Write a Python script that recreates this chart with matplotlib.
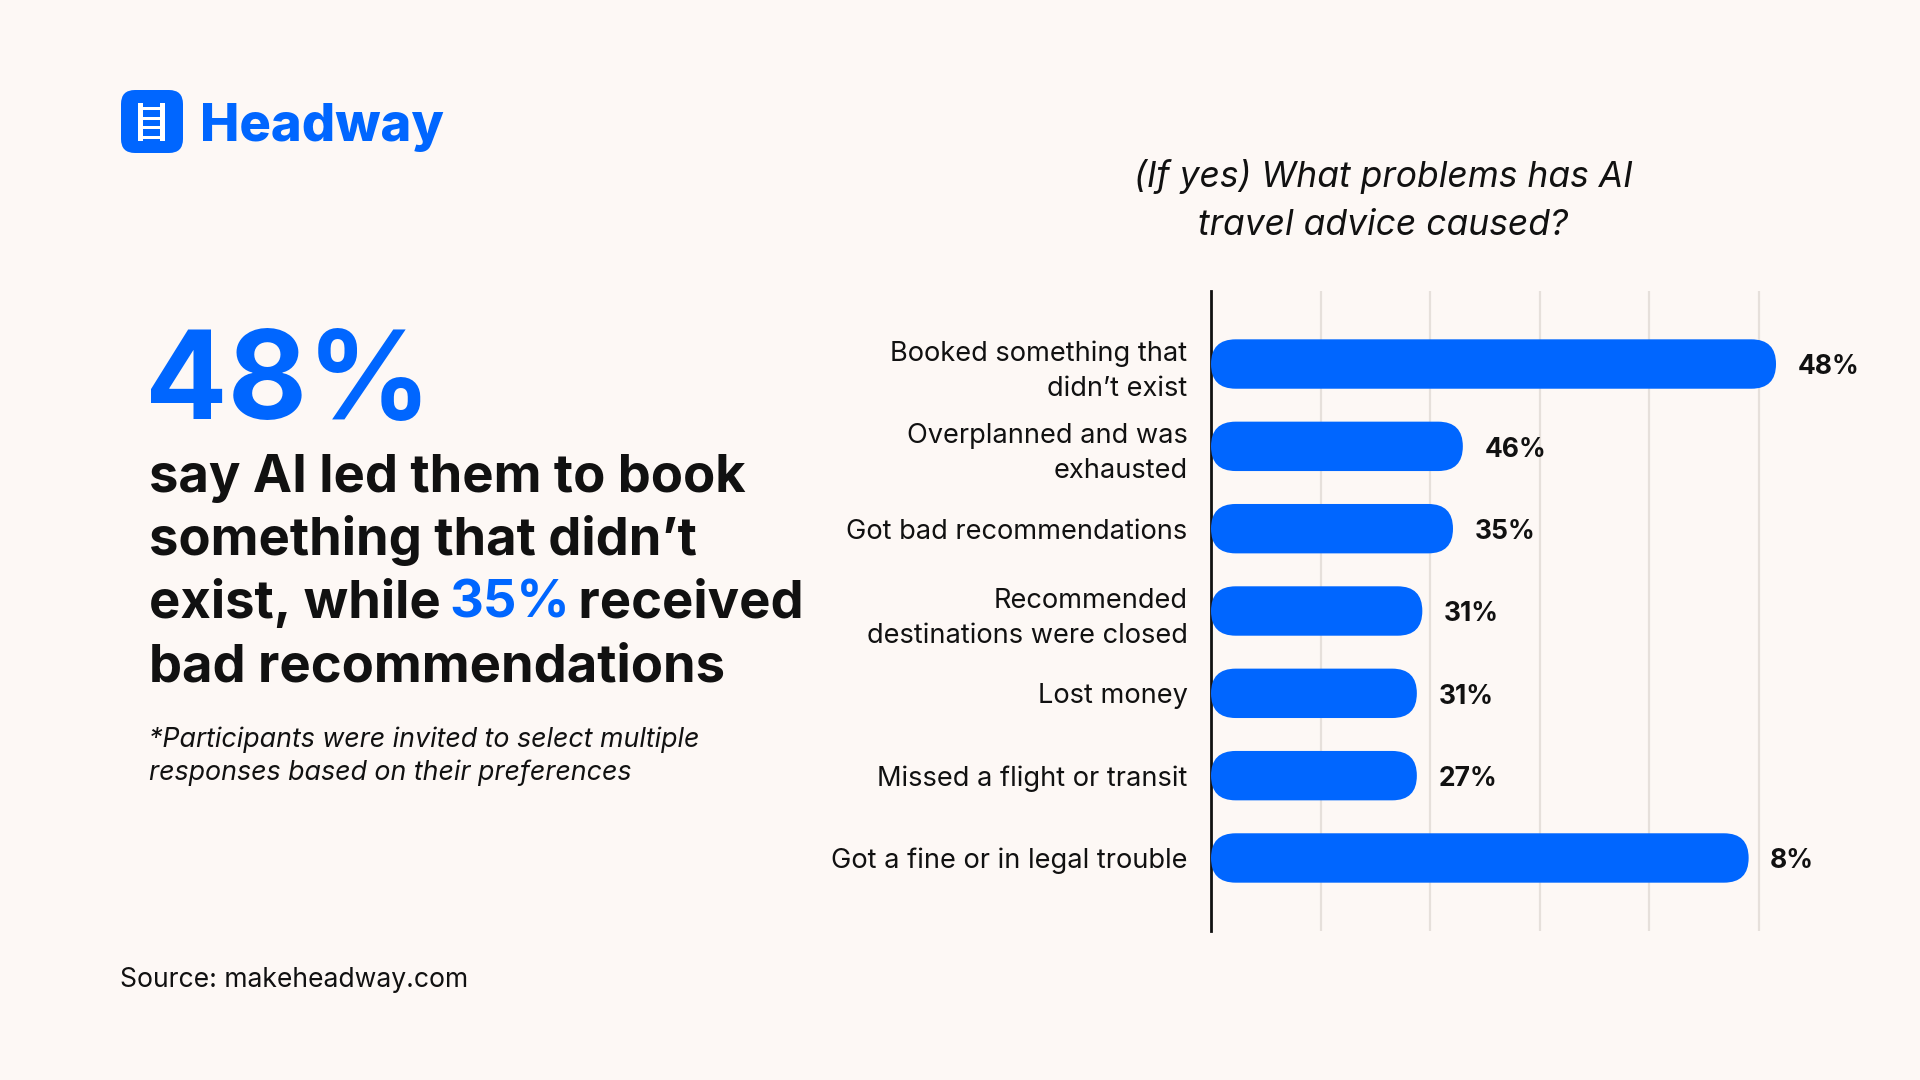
import matplotlib
matplotlib.use("Agg")
import matplotlib.pyplot as plt
from matplotlib.patches import FancyBboxPatch, Rectangle

# ---------------- data ----------------
categories = [
    "Booked something that\ndidn’t exist",
    "Overplanned and was\nexhausted",
    "Got bad recommendations",
    "Recommended\ndestinations were closed",
    "Lost money",
    "Missed a flight or transit",
    "Got a fine or in legal trouble",
]
value_labels = ["48%", "46%", "35%", "31%", "31%", "27%", "8%"]
bar_lengths = [51.6, 23.0, 22.1, 19.3, 18.8, 18.8, 49.1]   # drawn lengths
grid_ticks = [10, 20, 30, 40, 50]

title_lines = ["(If yes) What problems has AI", "travel advice caused?"]
big_stat = "48%"
headline = ["say AI led them to book", "something that didn’t", ("exist, while ", "35%", " received"), "bad recommendations"]
footnote_lines = ["*Participants were invited to select multiple", "responses based on their preferences"]
source = "Source: makeheadway.com"
brand = "Headway"

# ---------------- style ----------------
W, H = 1920, 1080
BG = "#FDF8F5"
BLUE = "#0066FF"
GRID = "#E6E0DB"
INK = "#111111"
FONT = ["Inter", "DejaVu Sans"]
plt.rcParams["font.family"] = FONT

fig = plt.figure(figsize=(W / 100, H / 100), dpi=100)
fig.patch.set_facecolor(BG)

# pixel-space overlay axes
bg = fig.add_axes([0, 0, 1, 1], zorder=0)
bg.set_xlim(0, W)
bg.set_ylim(H, 0)
bg.axis("off")
bg.set_facecolor(BG)

# ---------------- logo ----------------
bg.add_patch(FancyBboxPatch((121, 90), 62, 63, boxstyle="round,pad=0,rounding_size=14",
                            fc=BLUE, ec="none"))
for rx in (138, 159.5):
    bg.add_patch(Rectangle((rx, 103), 5, 38, fc="white", ec="none"))
for ry in (107, 116.5, 126, 135.5):
    bg.add_patch(Rectangle((140, ry), 21, 3.2, fc="white", ec="none"))
bg.text(200, 141, brand, fontsize=37.8, fontweight="heavy", color=BLUE, va="baseline", ha="left")

# ---------------- left text ----------------
bg.text(145, 419, big_stat, fontsize=88, fontweight="bold", color=BLUE, va="baseline", ha="left")
baselines = [492, 555, 618, 681]
HFS = 37.8
fig.canvas.draw()
renderer = fig.canvas.get_renderer()
for line, yb in zip(headline, baselines):
    if isinstance(line, tuple):
        x = 149
        for k, part in enumerate(line):
            t = bg.text(x, yb, part, fontsize=HFS, fontweight="bold",
                        color=BLUE if k == 1 else INK, va="baseline", ha="left")
            bb = t.get_window_extent(renderer=renderer)
            inv = bg.transData.inverted()
            x = inv.transform((bb.x1, bb.y0))[0] - 4
    else:
        bg.text(149, yb, line, fontsize=HFS, fontweight="bold", color=INK, va="baseline", ha="left")

for line, yb in zip(footnote_lines, [747, 780]):
    bg.text(149, yb, line, fontsize=19.3, style="italic", color=INK, va="baseline", ha="left")
bg.text(120, 987, source, fontsize=19.1, color=INK, va="baseline", ha="left")

# ---------------- chart title ----------------
for line, yb in zip(title_lines, [187, 235]):
    bg.text(1383, yb, line, fontsize=25.5, style="italic", color=INK, va="baseline", ha="center")

# ---------------- bar chart ----------------
left_px, right_px, top_px, bot_px = 1211, 1868, 291, 931
ax = fig.add_axes([left_px / W, 1 - bot_px / H, (right_px - left_px) / W, (bot_px - top_px) / H], zorder=1)
ax.patch.set_alpha(0)
xmax = 60
ax.set_xlim(0, xmax)
n = len(categories)
pad = 0.887
ax.set_ylim(n - 1 + pad, -pad)

xpp = xmax / (right_px - left_px)          # x data units per pixel
ypp = (n - 1 + 2 * pad) / (bot_px - top_px)  # y data units per pixel
asp = ypp / xpp
bh = 0.6
r = 0.5 * bh / asp * 0.999
for i, (L, lab) in enumerate(zip(bar_lengths, value_labels)):
    ax.add_patch(FancyBboxPatch((0, i - bh / 2), L, bh,
                                boxstyle=f"round,pad=0,rounding_size={r}",
                                mutation_aspect=asp, fc=BLUE, ec="none", zorder=3))
    ax.annotate(lab, xy=(L, i), xytext=(15.5, -2.5), textcoords="offset points",
                va="center", ha="left", fontsize=19, fontweight="bold", color=INK)

ax.set_xticks(grid_ticks)
ax.set_xticklabels([])
ax.grid(axis="x", color=GRID, lw=1.6, zorder=0)
ax.tick_params(axis="x", length=0)
ax.set_yticks(range(n))
ax.set_yticklabels(categories, fontsize=19.6, color=INK, linespacing=1.44, ha="right")
ax.tick_params(axis="y", length=0, pad=17)
for s in ("top", "right", "bottom"):
    ax.spines[s].set_visible(False)
ax.spines["left"].set_color(INK)
ax.spines["left"].set_linewidth(2)
ax.set_axisbelow(True)

fig.savefig("out.png", dpi=100, facecolor=BG)
